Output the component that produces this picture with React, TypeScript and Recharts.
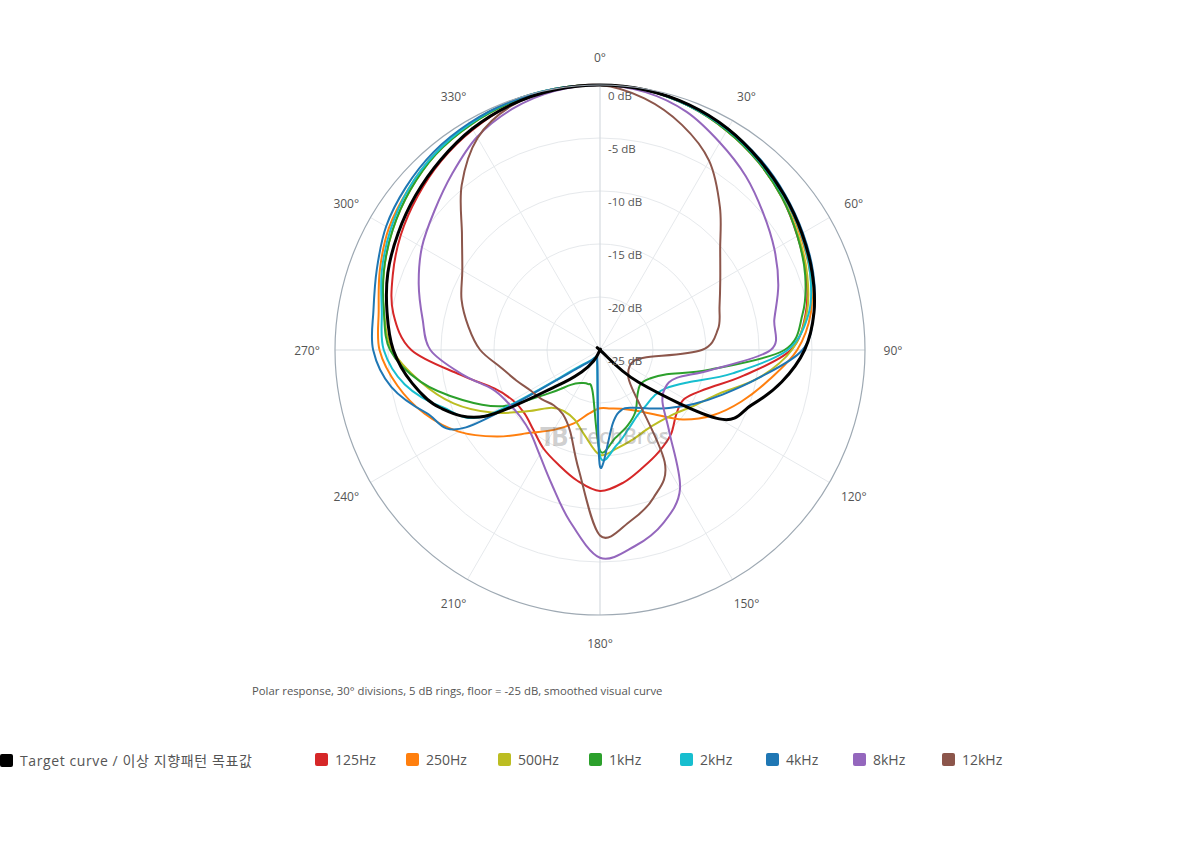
import React from 'react'
import { RadarChart, Radar, PolarGrid, PolarAngleAxis, PolarRadiusAxis } from 'recharts'

// angle (deg, clockwise from front) and level in dB, floor -25
const ANGLES = [0, 10, 20, 30, 40, 50, 60, 70, 80, 90, 100, 110, 120, 130, 140, 150, 160, 170,
  180, 190, 200, 210, 220, 230, 240, 250, 260, 270, 280, 290, 300, 310, 320, 330, 340, 350]

const TARGET = [0, -0.1, -0.4, -0.9, -1.6, -2.3, -3.0, -3.7, -4.5, -5.7, -7.6, -9.8, -12.0, -20.3, -25, -25, -25, -25,
  -25, -25, -25, -23.8, -22.3, -19.8, -12.5, -9.0, -7.0, -5.5, -4.6, -3.7, -3.0, -2.3, -1.6, -0.9, -0.4, -0.1]
const HZ125 = [0, -0.1, -0.5, -1.1, -1.8, -2.6, -3.5, -4.3, -5.3, -7.0, -11.2, -14.3, -15.8, -15.6, -14.6, -13.9, -13.2, -12.3,
  -11.7, -12.5, -13.5, -14.3, -15.2, -15.7, -15.5, -14.4, -11.6, -7.2, -5.2, -4.2, -3.3, -2.5, -1.7, -1.0, -0.4, -0.1]
const HZ250 = [0, -0.1, -0.4, -1.0, -1.6, -2.4, -3.2, -3.9, -4.8, -6.4, -8.8, -10.8, -12.7, -14.8, -17.1, -18.4, -19.1, -19.4,
  -19.5, -18.9, -17.6, -16.3, -14.8, -12.3, -9.6, -7.4, -5.6, -4.2, -3.8, -2.9, -2.0, -1.4, -0.8, -0.4, -0.1, 0]
const HZ500 = [0, -0.1, -0.5, -1.1, -1.8, -2.6, -3.4, -4.2, -5.2, -6.9, -9.8, -13.0, -14.6, -15.7, -16.2, -16.3, -16.0, -15.6,
  -15.1, -16.8, -18.0, -18.3, -17.9, -16.0, -13.2, -10.3, -7.8, -5.4, -4.3, -3.3, -2.4, -1.6, -0.9, -0.5, -0.2, 0]
const KHZ1 = [0, -0.1, -0.5, -1.1, -1.8, -2.6, -3.5, -4.4, -5.6, -7.6, -14.4, -18.3, -19.6, -20.0, -19.5, -18.3, -17.4, -16.6,
  -15.5, -21.0, -21.6, -21.4, -20.7, -18.6, -14.4, -11.2, -7.8, -5.2, -4.3, -3.3, -2.4, -1.6, -0.9, -0.5, -0.2, 0]
const KHZ2 = [0, -0.1, -0.5, -1.0, -1.7, -2.4, -3.1, -3.9, -5.0, -7.3, -12.3, -16.1, -17.8, -18.3, -18.2, -17.9, -17.1, -15.9,
  -15.0, -23.5, -24.2, -24.3, -23.8, -22.8, -12.6, -9.2, -6.3, -4.6, -4.1, -3.1, -2.2, -1.4, -0.8, -0.4, -0.1, 0]
const KHZ4 = [0, -0.1, -0.4, -0.9, -1.5, -2.2, -2.9, -3.6, -4.5, -5.9, -9.8, -12.7, -14.8, -16.5, -17.8, -18.7, -19.0, -18.0,
  -14.0, -23.6, -24.2, -24.2, -23.7, -22.5, -10.4, -7.6, -5.0, -3.6, -3.3, -2.6, -1.7, -1.1, -0.6, -0.3, -0.1, 0]
const KHZ8 = [0, -0.3, -1.1, -2.4, -3.6, -4.9, -6.0, -7.1, -8.3, -8.9, -14.3, -17.3, -17.9, -17.3, -14.8, -9.9, -7.6, -6.2,
  -5.4, -8.6, -11.6, -13.6, -14.8, -15.2, -15.0, -14.2, -11.8, -9.0, -8.0, -6.8, -5.6, -4.6, -3.3, -1.8, -0.8, -0.2]
const KHZ12 = [0, -0.9, -2.4, -4.4, -7.4, -10.2, -11.9, -13.0, -13.7, -15.4, -20.8, -21.7, -21.8, -21.5, -20.3, -12.8, -10.2, -8.6,
  -7.5, -13.5, -16.8, -18.0, -18.2, -17.8, -17.4, -16.6, -15.5, -13.7, -12.4, -11.1, -10.0, -8.0, -4.7, -1.9, -0.5, -0.1]

const RINGS = [-25, -20, -15, -10, -5, 0]

const SERIES = [
  { key: 'target', name: 'Target curve / 이상 지향패턴 목표값', color: '#000000', width: 3, values: TARGET },
  { key: 'hz125', name: '125Hz', color: '#d62728', width: 2, values: HZ125 },
  { key: 'hz250', name: '250Hz', color: '#ff7f0e', width: 2, values: HZ250 },
  { key: 'hz500', name: '500Hz', color: '#bcbd22', width: 2, values: HZ500 },
  { key: 'khz1', name: '1kHz', color: '#2ca02c', width: 2, values: KHZ1 },
  { key: 'khz2', name: '2kHz', color: '#17becf', width: 2, values: KHZ2 },
  { key: 'khz4', name: '4kHz', color: '#1f77b4', width: 2, values: KHZ4 },
  { key: 'khz8', name: '8kHz', color: '#9467bd', width: 2, values: KHZ8 },
  { key: 'khz12', name: '12kHz', color: '#8c564b', width: 2, values: KHZ12 },
]

const LEGEND_X = [0, 315, 406, 498, 589, 680, 766, 853, 942]

const FONT = '"Open Sans", "Noto Sans CJK KR", sans-serif'
const CX = 600
const CY = 350
const OUTER = 265

const data = ANGLES.map((a, i) => {
  const row: Record<string, number> = { angle: a }
  SERIES.forEach(s => { row[s.key] = s.values[i] })
  return row
})

// closed catmull-rom through the points recharts computed
function smoothClosed(pts: { x: number; y: number }[]) {
  const n = pts.length
  let d = `M${pts[0].x},${pts[0].y}`
  for (let i = 0; i < n; i++) {
    const p0 = pts[(i - 1 + n) % n]
    const p1 = pts[i]
    const p2 = pts[(i + 1) % n]
    const p3 = pts[(i + 2) % n]
    const c1x = p1.x + (p2.x - p0.x) / 6
    const c1y = p1.y + (p2.y - p0.y) / 6
    const c2x = p2.x - (p3.x - p1.x) / 6
    const c2y = p2.y - (p3.y - p1.y) / 6
    d += ` C${c1x},${c1y} ${c2x},${c2y} ${p2.x},${p2.y}`
  }
  return d + ' Z'
}

const AngleTick = (props: any) => {
  const v = Number(props.payload?.value)
  if (v % 30 !== 0) return null
  return (
    <text x={props.x} y={props.y} textAnchor="middle" dominantBaseline="central"
      fontSize={12} fill="#555" fontFamily={FONT}>{`${v}°`}</text>
  )
}

const RadiusTick = (props: any) => (
  <text x={props.x + 8} y={props.y + 10} textAnchor="start" dominantBaseline="central"
    fontSize={11.5} fill="#555" fontFamily={FONT}>{`${props.payload?.value} dB`}</text>
)

export default function App() {
  return (
    <div style={{ position: 'absolute', left: 0, top: 0, width: 1200, height: 860, background: '#fff', fontFamily: FONT }}>
      <RadarChart width={1200} height={700} data={data} cx={CX} cy={CY} outerRadius={OUTER}
        margin={{ top: 0, right: 0, bottom: 0, left: 0 }}>
        <PolarGrid gridType="circle" stroke="#e6e9ec" strokeWidth={1}
          polarAngles={[0, 30, 60, 120, 150, 210, 240, 300, 330]}
          polarRadius={[53, 106, 159, 212]} />
        <PolarGrid gridType="circle" stroke="#d6dbe0" strokeWidth={1.2}
          polarAngles={[0, 90, 180, 270]} polarRadius={[]} />
        <PolarAngleAxis dataKey="angle" axisLineType="circle" stroke="#9ea9b3"
          axisLine={{ stroke: '#9ea9b3', strokeWidth: 1.2 }} tickLine={false} tickSize={28} tick={<AngleTick />} />
        <PolarRadiusAxis angle={90} domain={[-25, 0]} ticks={RINGS} tickCount={6} axisLine={false}
          tickLine={false} tick={<RadiusTick />} />
        {SERIES.slice(1).concat(SERIES.slice(0, 1)).map(s => (
          <Radar key={s.key} dataKey={s.key} name={s.name} stroke={s.color} fill="none"
            isAnimationActive={false} dot={false}
            shape={(p: any) => (
              <path d={smoothClosed(p.points)} fill="none" stroke={s.color} strokeWidth={s.width}
                strokeLinejoin="round" />
            )} />
        ))}
      </RadarChart>
      <div style={{ position: 'absolute', left: 540, top: 418, display: 'flex', alignItems: 'center',
        color: 'rgba(90,90,90,0.3)', fontSize: 21, fontWeight: 600, pointerEvents: 'none' }}>
        <span style={{ fontSize: 26, fontWeight: 700, letterSpacing: -4 }}>TB</span>
        <span style={{ marginLeft: 4 }}>-TechBros</span>
      </div>
      <div style={{ position: 'absolute', left: 252, top: 683, fontSize: 11.3, color: '#555', whiteSpace: 'nowrap' }}>
        Polar response, 30° divisions, 5 dB rings, floor = -25 dB, smoothed visual curve
      </div>
      {SERIES.map((s, i) => (
        <div key={s.key} style={{ position: 'absolute', left: LEGEND_X[i], top: 750, display: 'flex',
          alignItems: 'center', fontSize: 14, color: '#555', whiteSpace: 'nowrap',
          letterSpacing: i === 0 ? 0.6 : 0 }}>
          <span style={{ width: 13, height: 13, borderRadius: 2, background: s.color, marginRight: 7 }} />
          {s.name}
        </div>
      ))}
    </div>
  )
}
